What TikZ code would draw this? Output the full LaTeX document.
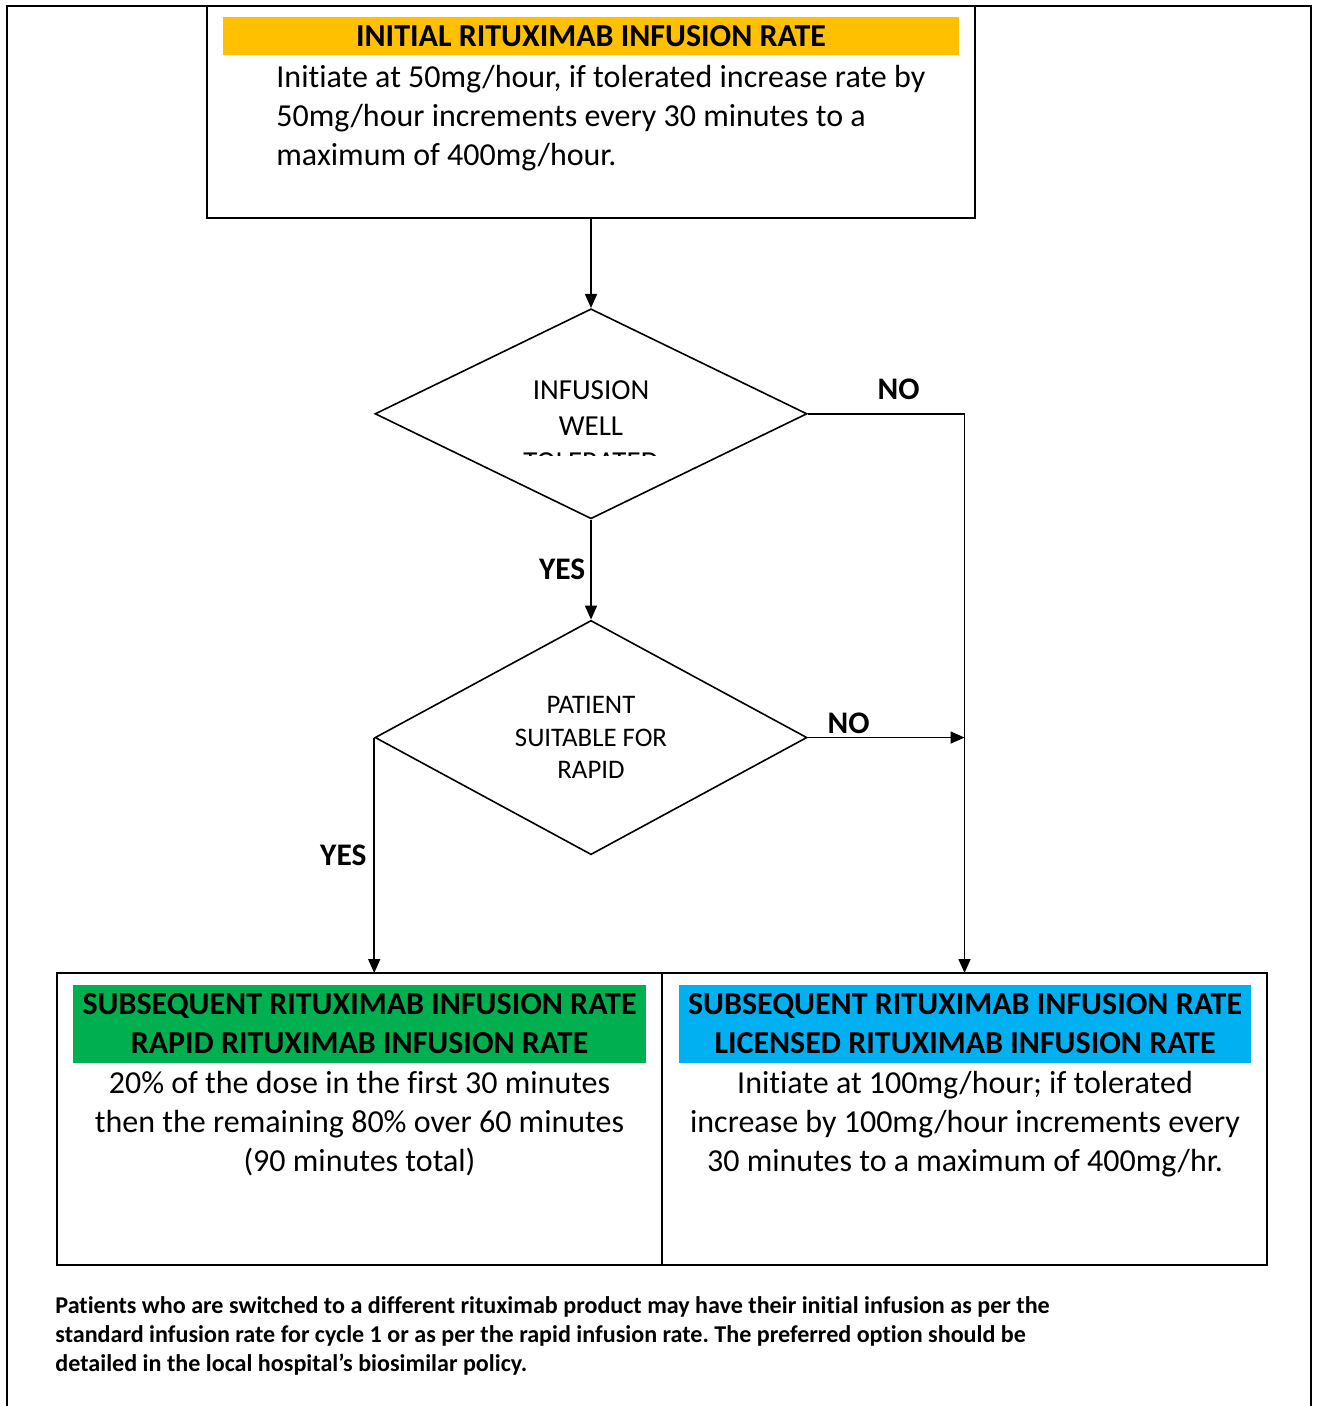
\documentclass[tikz,border=0pt]{standalone}
\usepackage{fontspec}
\setmainfont{Carlito}[Ligatures=NoCommon]
\usetikzlibrary{positioning,shapes.geometric,arrows.meta}

\definecolor{initorange}{HTML}{FFC000}
\definecolor{rapidgreen}{HTML}{00B050}
\definecolor{licblue}{HTML}{00B0F0}
\frenchspacing

\begin{document}
\begin{tikzpicture}[x=0.5pt, y=-0.5pt,
    framebox/.style={rectangle, draw=black, line width=0.8pt, inner sep=0pt, outer sep=0pt},
    headbar/.style={rectangle, inner sep=0pt, align=center, font=\fontsize{16}{19.5}\selectfont\bfseries},
    bodytext/.style={inner sep=0pt, font=\fontsize{16}{19.5}\selectfont},
    decisionnode/.style={diamond, draw=black, line width=0.8pt, inner sep=0pt, minimum width=216pt, minimum height=105pt, align=center},
    answer/.style={inner sep=0pt, font=\fontsize{15.7}{18}\selectfont\bfseries},
    flowline/.style={draw=black, line width=0.8pt, -{Triangle[length=7pt,width=6pt]}}]

    \useasboundingbox (0,0) rectangle (1318,1406);
    % outer frame, open at the bottom
    \draw[line width=1pt] (7,1406) -- (7,6) -- (1311,6) -- (1311,1406);

    % initial rate
    \node[framebox, minimum width=384pt, minimum height=106pt] (initial) at (591,112) {};
    \node[headbar, fill=initorange, minimum width=368pt, minimum height=19pt] (initialhead) at (591,36.5) {INITIAL RITUXIMAB INFUSION RATE};
    \node[bodytext, align=left, anchor=north west] (initialtext) at (276,65) {Initiate at 50mg/hour, if tolerated increase rate by\\50mg/hour increments every 30 minutes to a\\maximum of 400mg/hour.};

    % decisions
    \node[decisionnode] (tolerated) [below=45pt of initial] {};
    \begin{scope}
        \clip (420,360) rectangle (760,455);
        \node[align=center, inner sep=0pt, font=\fontsize{14.5}{18}\selectfont] (toleratedtext) at (591,426) {INFUSION\\WELL\\TOLERATED};
    \end{scope}
    \node[decisionnode, minimum height=115.5pt, font=\fontsize{13.4}{16.25}\selectfont] (rapid) [below=50pt of tolerated] {PATIENT\\SUITABLE FOR\\RAPID};

    % subsequent rates
    \node[framebox, minimum width=302.5pt, minimum height=146pt] (rapidbox) at (359.5,1119) {};
    \node[framebox, minimum width=302.5pt, minimum height=146pt] (licensedbox) [right=0pt of rapidbox] {};
    \node[headbar, fill=rapidgreen, minimum width=286.5pt, minimum height=39pt] (rapidhead) at (359.5,1024) {SUBSEQUENT RITUXIMAB INFUSION RATE\\RAPID RITUXIMAB INFUSION RATE};
    \node[headbar, fill=licblue, minimum width=286pt, minimum height=39pt] (licensedhead) at (965,1024) {SUBSEQUENT RITUXIMAB INFUSION RATE\\LICENSED RITUXIMAB INFUSION RATE};
    \node[bodytext, align=center, anchor=north] (rapidtext) [below=3.5pt of rapidhead] {20\% of the dose in the first 30 minutes\\then the remaining 80\% over 60 minutes\\(90 minutes total)};
    \node[bodytext, align=center, anchor=north] (licensedtext) [below=3.5pt of licensedhead] {Initiate at 100mg/hour; if tolerated\\increase by 100mg/hour increments every\\30 minutes to a maximum of 400mg/hr.};

    % connectors
    \draw[flowline] (initial.south) -- (tolerated.north);
    \draw[flowline] (tolerated.south) -- node[answer, left=2.5pt] (yestolerated) {YES} (rapid.north);
    \draw[flowline] (tolerated.east) -| node[answer, above=6.5pt, pos=0.29] (notolerated) {NO} (licensedbox.north);
    \draw[flowline] (rapid.east) -- node[answer, above=1.5pt, pos=0.26] (norapid) {NO} (rapid.east -| licensedbox.north);
    \draw[flowline] (rapid.west) -- node[answer, left=3.5pt] (yesrapid) {YES} (rapid.west |- rapidbox.north);

    % footnote
    \node[anchor=north west, align=left, inner sep=0pt, font=\fontsize{12.05}{14.5}\selectfont\bfseries] (note) at (55,1296) {Patients who are switched to a different rituximab product may have their initial infusion as per the\\standard infusion rate for cycle 1 or as per the rapid infusion rate. The preferred option should be\\detailed in the local hospital’s biosimilar policy.};

\end{tikzpicture}
\end{document}
